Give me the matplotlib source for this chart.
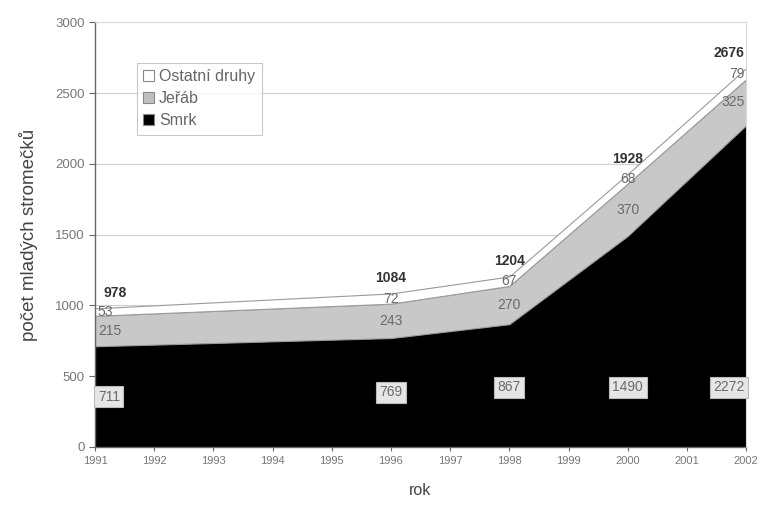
import matplotlib
matplotlib.use("Agg")
import matplotlib.pyplot as plt
from matplotlib.patches import Patch

plt.rcParams['font.family'] = ['Liberation Sans', 'DejaVu Sans']

years = [1991, 1996, 1998, 2000, 2002]
smrk = [711, 769, 867, 1490, 2272]
jerab = [215, 243, 270, 370, 325]
ostatni = [53, 72, 67, 68, 79]
totals = [978, 1084, 1204, 1928, 2676]
series_names = ["Ostatní druhy", "Jeřáb", "Smrk"]
x_ticks = list(range(1991, 2003))
y_ticks = [0, 500, 1000, 1500, 2000, 2500, 3000]

fig = plt.figure(figsize=(7.66, 5.05), dpi=100)
ax = fig.add_axes([0.124, 0.115, 0.850, 0.841])

base1 = smrk
base2 = [a + b for a, b in zip(smrk, jerab)]
top = [a + b for a, b in zip(base2, ostatni)]

edge = '#9a9a9a'
ax.fill_between(years, 0, base1, facecolor='black', edgecolor='black', lw=0.8, zorder=2)
ax.fill_between(years, base1, base2, facecolor='#c8c8c8', edgecolor=edge, lw=0.8, zorder=2)
ax.fill_between(years, base2, top, facecolor='white', edgecolor=edge, lw=0.8, zorder=2)

ax.set_xlim(1991, 2002)
ax.set_ylim(0, 3000)
ax.set_xticks(x_ticks)
ax.set_yticks(y_ticks)
ax.yaxis.grid(True, color='#d0d0d0', lw=0.8, zorder=0)
ax.set_axisbelow(True)

for s in ['top', 'right']:
    ax.spines[s].set_color('#d8d8d8')
    ax.spines[s].set_linewidth(0.8)
for s in ['left', 'bottom']:
    ax.spines[s].set_color('#666666')
    ax.spines[s].set_linewidth(1.0)
ax.spines['right'].set_zorder(3)

ax.tick_params(axis='both', colors='#666666', labelcolor='#777777', length=4, width=0.8)
ax.tick_params(axis='x', direction='inout', length=6, labelsize=8)
ax.tick_params(axis='y', labelsize=9.5)
ax.set_xlabel('rok', fontsize=11.5, color='#444444', labelpad=12)
ax.set_ylabel('počet mladých stromečků', fontsize=13.5, color='#444444', labelpad=12)

label_color = '#6a6a6a'
n = len(years)
for i, yr in enumerate(years):
    if i == 0:
        ha, dx = 'left', 2
    elif i == n - 1:
        ha, dx = 'right', -1
    else:
        ha, dx = 'center', 0
    # totals above the stack
    ax.annotate(str(totals[i]), (yr, top[i]), xytext=(dx + (4 if i == 0 else 0), 6),
                textcoords='offset points', ha=ha, va='bottom', fontsize=10,
                fontweight='bold', color='#333333', zorder=5, annotation_clip=False)
    # other species
    ax.annotate(str(ostatni[i]), (yr, base2[i] + ostatni[i] / 2), xytext=(dx, 0),
                textcoords='offset points', ha=ha, va='center', fontsize=10,
                color=label_color, zorder=5)
    # rowan
    ax.annotate(str(jerab[i]), (yr, base1[i] + jerab[i] / 2), xytext=(dx, 0),
                textcoords='offset points', ha=ha, va='center', fontsize=10,
                color=label_color, zorder=5)
    # spruce
    ax.annotate(str(smrk[i]), (yr, min(smrk[i] / 2, 420)), xytext=(dx, 0),
                textcoords='offset points', ha=ha, va='center', fontsize=10,
                color=label_color, zorder=5,
                bbox=dict(boxstyle='square,pad=0.25', facecolor='#e6e6e6',
                          edgecolor='#bbbbbb', lw=0.8))

handles = [Patch(facecolor='white', edgecolor='#888888', lw=0.8),
           Patch(facecolor='#c0c0c0', edgecolor='#888888', lw=0.8),
           Patch(facecolor='black', edgecolor='#888888', lw=0.8)]
leg = ax.legend(handles, series_names, loc='upper left', bbox_to_anchor=(0.064, 0.905),
                borderaxespad=0, fontsize=11.5, frameon=True, fancybox=False,
                handlelength=0.7, handleheight=0.7, handletextpad=0.3,
                labelspacing=0.45, borderpad=0.4, labelcolor='#666666')
leg.get_frame().set_edgecolor('#bbbbbb')
leg.get_frame().set_linewidth(0.8)

fig.savefig('out.png', dpi=100)
